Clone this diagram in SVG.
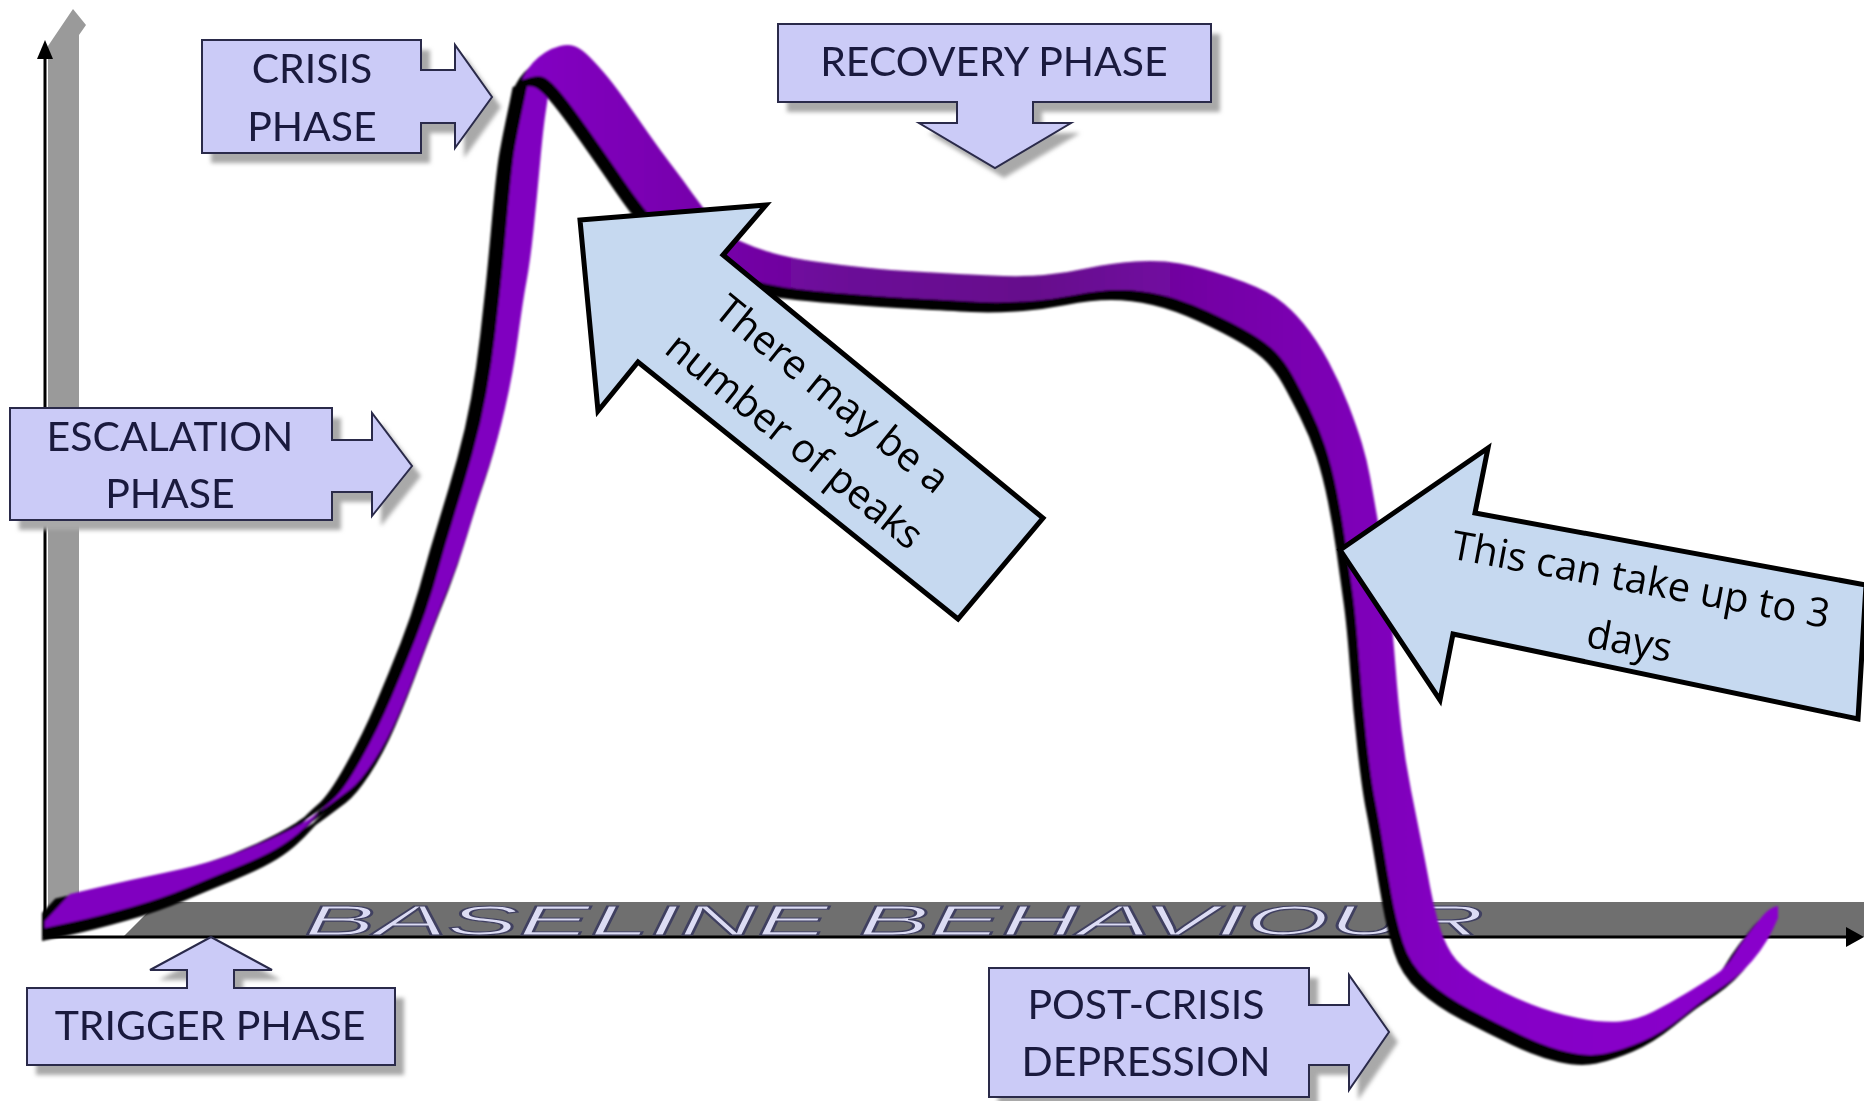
<svg xmlns="http://www.w3.org/2000/svg" width="1864" height="1101" viewBox="0 0 1864 1101">
<defs>
<style>
.box{fill:#cbcbf7;stroke:#2a2a4a;stroke-width:2}
.shadow{fill:#a9a9a9;filter:url(#blur)}
.lbl{font-family:Lato,"Liberation Sans",sans-serif;font-size:41px;fill:#1a1a3e;text-anchor:middle}
.call{fill:#c6d9f0;stroke:#000;stroke-width:5;stroke-linejoin:miter}
.ctext{font-family:"Open Sans","Liberation Sans",sans-serif;font-size:40px;fill:#000;text-anchor:middle}
.blk{fill:#000;stroke:#000;stroke-width:3;stroke-linejoin:round}
</style>
<filter id="blur" x="-10%" y="-10%" width="120%" height="120%"><feGaussianBlur stdDeviation="2"/></filter>
<filter id="soft" x="-5%" y="-5%" width="110%" height="110%"><feGaussianBlur stdDeviation="0.8"/></filter>
<linearGradient id="pg2" gradientUnits="userSpaceOnUse" x1="520" y1="0" x2="1800" y2="0">
<stop offset="0" stop-color="#8400c4"/>
<stop offset="0.25" stop-color="#6c0898"/>
<stop offset="0.4" stop-color="#660a8c"/>
<stop offset="0.6" stop-color="#7a04b0"/>
<stop offset="0.75" stop-color="#8500c6"/>
<stop offset="1" stop-color="#8a00cc"/>
</linearGradient>
<path id="c1" d="M45,921 L70,894 L100,887 Q130,880 163.5,873 Q197,866 222,858 Q247,850 272,838.5 Q297,827 308.5,819.5 Q320,812 330,804.5 Q340,797 350,789.5 Q360,782 373.5,761.5 Q387,741 398.5,714.5 Q410,688 423.5,651.5 Q437,615 448.5,586.5 Q460,558 470,525 Q480,492 488.5,467.5 Q497,443 505,408.5 Q513,374 518,337 Q523,300 526.5,281.5 Q530,263 533.5,230 Q537,197 540,163.5 Q543,130 545.5,113.5 Q548,97 548.5,90.5 L549,84 L540,80 L528,82 L525,97 L521.5,113.5 Q518,130 515,146.5 Q512,163 507.5,213 Q503,263 501,281.5 Q499,300 495.5,331 Q492,362 486.5,392.5 Q481,423 472.5,453.5 Q464,484 454.5,514.5 Q445,545 436.5,576 Q428,607 416,637.5 Q404,668 391,698.5 Q378,729 361,759.5 Q344,790 333,799.5 Q322,809 314.5,817.5 Q307,826 297.5,834 Q288,842 275,849.5 Q262,857 237.5,867 Q213,877 188,887.5 Q163,898 131.5,907 Q100,916 72.5,922 L45,928 Z"/>
<path id="c2" d="M522,80 L525,74 Q528,68 533,62.5 Q538,57 545,52.5 Q552,48 560,46 Q568,44 574,46 Q580,48 586.5,54 Q593,60 603,71.5 Q613,83 625,100 Q637,117 648.5,133.5 Q660,150 671.5,165 Q683,180 692.5,193.5 Q702,207 713.5,220.5 Q725,234 740,241 Q755,248 772.5,253 Q790,258 815,261.5 Q840,265 864,267.5 Q888,270 924,272 Q960,274 991,275.5 Q1022,277 1044,275 Q1066,273 1088.5,268 Q1111,263 1135.5,261.5 Q1160,260 1180,263.5 Q1200,267 1230,277 Q1260,287 1275,297 Q1290,307 1303.5,323.5 Q1317,340 1328.5,361.5 Q1340,383 1348.5,405 Q1357,427 1362,443.5 Q1367,460 1370,476.5 Q1373,493 1376.5,513 Q1380,533 1383.5,558 Q1387,583 1390,608 Q1393,633 1395.5,666.5 Q1398,700 1401.5,730 Q1405,760 1411,790 Q1417,820 1422,845 Q1427,870 1430,886.5 Q1433,903 1438,921.5 Q1443,940 1451.5,953.5 Q1460,967 1481.5,980 Q1503,993 1528,1003 Q1553,1013 1578,1018 Q1603,1023 1620,1021.5 Q1637,1020 1653.5,1011.5 Q1670,1003 1686.5,993 Q1703,983 1715,975 Q1727,967 1733.5,956 Q1740,945 1747.5,935 Q1755,925 1762.5,916 Q1770,907 1778,906 L1778,918 L1773,929 Q1768,940 1760,951 Q1752,962 1743.5,970 Q1735,978 1725,985 Q1715,992 1709,996 Q1703,1000 1682.5,1016.5 Q1662,1033 1642,1041.5 Q1622,1050 1605.5,1053.5 Q1589,1057 1567.5,1052 Q1546,1047 1521,1035 Q1496,1023 1471,1010 Q1446,997 1428,981 Q1410,965 1403,942.5 Q1396,920 1391.5,895 Q1387,870 1383,845 Q1379,820 1375,800 Q1371,780 1366.5,740 Q1362,700 1359,658.5 Q1356,617 1352.5,592 Q1349,567 1345.5,542 Q1342,517 1337,492 Q1332,467 1325.5,447 Q1319,427 1309,407 Q1299,387 1292,374.5 Q1285,362 1276,352.5 Q1267,343 1250,333 Q1233,323 1208,311.5 Q1183,300 1161.5,295 Q1140,290 1120,290 Q1100,290 1075,295 Q1050,300 1025,301.5 Q1000,303 980,302 Q960,301 924,299 Q888,297 844,293.5 Q800,290 780,286.5 Q760,283 742.5,277.5 Q725,272 707.5,263.5 Q690,255 675,241.5 Q660,228 648.5,214 Q637,200 625,182.5 Q613,165 601.5,148.5 Q590,132 578.5,116 Q567,100 557.5,89 Q548,78 541.5,76.5 Q535,75 522,80 Z"/>
<path id="crisisShape" d="M202,40 H421 V70 H455 V45 L492,97 L455,148 V123 H421 V153 H202 Z"/>
<path id="escShape" d="M10,408 H332 V440 H372 V413 L412,466 L372,516 V492 H332 V520 H10 Z"/>
<path id="recShape" d="M778,24 H1211 V102 H1033 V123 H1071 L995,168 L919,123 H957 V102 H778 Z"/>
<path id="trigShape" d="M27,988 H187 V970 H150 L211,937 L272,970 H234 V988 H395 V1065 H27 Z"/>
<path id="postShape" d="M989,968 H1309 V1005 H1349 V975 L1389,1032 L1349,1090 V1065 H1309 V1097 H989 Z"/>
<clipPath id="startClip"><rect x="42" y="0" width="1822" height="1101"/></clipPath>
</defs>
<rect width="1864" height="1101" fill="#fff"/>
<g id="connectors">
<g id="axes">
<polygon fill="#9a9a9a" points="48,46 73,9 86,25 79,35 79,932 48,932"/>
<polygon fill="#6f6f6f" points="123,937 158,902 1864,902 1864,937"/>
<line x1="45" y1="936" x2="45" y2="56" stroke="#000" stroke-width="3"/>
<polygon fill="#000" points="45,40 37,59 53,59"/>
<line x1="45" y1="937" x2="1848" y2="937" stroke="#000" stroke-width="3"/>
<polygon fill="#000" points="1864,937 1846,927 1846,947"/>
<text x="304" y="935" font-family="Liberation Sans, sans-serif" font-style="italic" font-size="42" textLength="1180" lengthAdjust="spacingAndGlyphs" fill="#dcdcf4" stroke="#404060" stroke-width="1.2">BASELINE BEHAVIOUR</text>
</g>
<g id="curve" filter="url(#soft)">
<g clip-path="url(#startClip)">
<use href="#c1" class="blk" transform="translate(-14,6)"/>
<use href="#c1" class="blk" transform="translate(-9,9)"/>
<use href="#c1" class="blk" transform="translate(-5,12)"/>
</g>
<use href="#c1" fill="#8000c0"/>
<use href="#c2" fill="#000" transform="translate(-9,10)"/>
<use href="#c2" fill="url(#pg2)"/>
</g>
</g>
<g id="node-crisis">
<use href="#crisisShape" class="shadow" transform="translate(9,10)"/>
<use href="#crisisShape" class="box"/>
<text class="lbl" x="312" y="83">CRISIS</text>
<text class="lbl" x="312" y="141">PHASE</text>
</g>
<g id="node-escalation">
<use href="#escShape" class="shadow" transform="translate(9,10)"/>
<use href="#escShape" class="box"/>
<text class="lbl" x="170" y="451">ESCALATION</text>
<text class="lbl" x="170" y="508">PHASE</text>
</g>
<g id="node-recovery">
<use href="#recShape" class="shadow" transform="translate(9,10)"/>
<use href="#recShape" class="box"/>
<text class="lbl" x="994" y="76">RECOVERY PHASE</text>
</g>
<g id="node-trigger">
<use href="#trigShape" class="shadow" transform="translate(9,10)"/>
<use href="#trigShape" class="box"/>
<text class="lbl" x="210" y="1040">TRIGGER PHASE</text>
</g>
<g id="node-postcrisis">
<use href="#postShape" class="shadow" transform="translate(9,10)"/>
<use href="#postShape" class="box"/>
<text class="lbl" x="1146" y="1019">POST-CRISIS</text>
<text class="lbl" x="1146" y="1076">DEPRESSION</text>
</g>
<g id="callout-peaks">
<polygon class="call" points="580,220 766,205 723,255 1043,518 958,619 638,362 598,411"/>
<g transform="translate(813,418) rotate(39)">
<text class="ctext" x="0" y="-17">There may be a</text>
<text class="ctext" x="0" y="43">number of peaks</text>
</g>
</g>
<g id="callout-days">
<polygon class="call" points="1340,550 1488,448 1475,513 1866,585 1858,719 1453,634 1440,700"/>
<g transform="translate(1635,611) rotate(10.5)">
<text class="ctext" x="0" y="-18">This can take up to 3</text>
<text class="ctext" x="0" y="44">days</text>
</g>
</g>
</svg>
